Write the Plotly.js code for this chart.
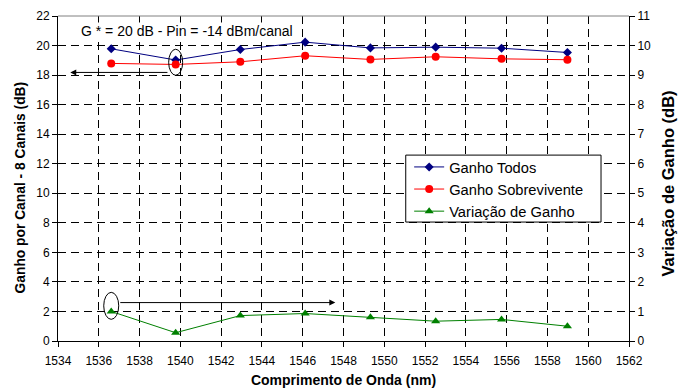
<!DOCTYPE html>
<html>
<head>
<meta charset="utf-8">
<script src="https://cdn.plot.ly/plotly-3.0.1.min.js"></script>
<style>
  html, body { margin: 0; padding: 0; background: #fff; }
  #chart { width: 685px; height: 392px; }
</style>
</head>
<body>
<div id="chart"></div>
<script>
// Channel wavelengths (nm), 8-channel grid
const wavelengths = [1536.61, 1539.77, 1542.94, 1546.12, 1549.32, 1552.52, 1555.75, 1558.98];

// Gain per channel with all channels present (dB)
const ganhoTodos = [19.78, 19.02, 19.73, 20.23, 19.84, 19.89, 19.82, 19.53];

// Gain of the surviving channels (dB)
const ganhoSobrevivente = [18.79, 18.72, 18.90, 19.31, 19.06, 19.24, 19.10, 19.04];

// Gain variation (dB), plotted on the right axis
const variacaoGanho = [1.00, 0.28, 0.86, 0.93, 0.80, 0.67, 0.73, 0.50];

const seriesNames = ['Ganho Todos', 'Ganho Sobrevivente', 'Variação de Ganho'];

const FONT = 'Liberation Sans, Arial, sans-serif';

const traces = [
  {
    x: wavelengths, y: ganhoTodos, name: seriesNames[0],
    type: 'scatter', mode: 'lines+markers',
    line: { color: '#000080', width: 1 },
    marker: { symbol: 'diamond', size: 7, color: '#000080' }
  },
  {
    x: wavelengths, y: ganhoSobrevivente, name: seriesNames[1],
    type: 'scatter', mode: 'lines+markers',
    line: { color: '#FF0000', width: 1 },
    marker: { symbol: 'circle', size: 8, color: '#FF0000' }
  },
  {
    x: wavelengths, y: variacaoGanho, name: seriesNames[2], yaxis: 'y2',
    type: 'scatter', mode: 'lines+markers',
    line: { color: '#008000', width: 1 },
    marker: { symbol: 'triangle-up', size: 8, color: '#008000' }
  }
];

const gridDash = '8px,5px';

const layout = {
  width: 685, height: 392,
  margin: { l: 58, r: 56, t: 16, b: 51 },
  paper_bgcolor: '#fff', plot_bgcolor: '#fff',
  font: { family: FONT, size: 12, color: '#000' },
  showlegend: true,
  legend: {
    x: 0.615, y: 0.585, xanchor: 'left', yanchor: 'top',
    bgcolor: 'rgba(0,0,0,0)', borderwidth: 0,
    font: { family: FONT, size: 14.7, color: '#000' }
  },
  xaxis: {
    range: [1534, 1562], dtick: 2, tick0: 1534,
    showgrid: true, gridcolor: '#000', gridwidth: 1, griddash: gridDash,
    showline: true, linecolor: '#000', linewidth: 1,
    ticks: 'outside', ticklen: 5, tickcolor: '#000', ticklabelstandoff: 4,
    zeroline: false,
    tickfont: { family: FONT, size: 12, color: '#000' },
    title: { text: '<b>Comprimento de Onda (nm)</b>', font: { family: FONT, size: 14, color: '#000' }, standoff: 7 }
  },
  yaxis: {
    range: [0, 22], dtick: 2, tick0: 0,
    showgrid: true, gridcolor: '#000', gridwidth: 1, griddash: gridDash,
    showline: true, linecolor: '#000', linewidth: 1,
    ticks: 'outside', ticklen: 5, tickcolor: '#000',
    zeroline: false,
    tickfont: { family: FONT, size: 12, color: '#000' }
  },
  yaxis2: {
    range: [0, 11], dtick: 1, tick0: 0,
    overlaying: 'y', side: 'right',
    showgrid: false,
    showline: true, linecolor: '#000', linewidth: 1,
    ticks: 'outside', ticklen: 5, tickcolor: '#000',
    zeroline: false,
    tickfont: { family: FONT, size: 12, color: '#000' }
  },
  shapes: [
    // top border of the plotting area
    { type: 'line', xref: 'paper', yref: 'paper', x0: 0, x1: 1, y0: 1, y1: 1,
      line: { color: '#808080', width: 1 } },
    // legend frame (white, covers the grid behind the legend)
    { type: 'rect', xref: 'paper', yref: 'paper', layer: 'above',
      x0: 0.609, x1: 0.951, y0: 0.366, y1: 0.572,
      fillcolor: '#fff', line: { color: '#000', width: 1 } },
    // ellipse around the second channel (gain curves, left axis)
    { type: 'circle', xref: 'x', yref: 'y',
      xsizemode: 'pixel', ysizemode: 'pixel',
      xanchor: wavelengths[1], yanchor: (ganhoTodos[1] + ganhoSobrevivente[1]) / 2,
      x0: -7, x1: 7, y0: -13, y1: 13,
      line: { color: '#000', width: 1 } },
    // ellipse around the first gain-variation point (right axis)
    { type: 'circle', xref: 'x', yref: 'y2',
      xsizemode: 'pixel', ysizemode: 'pixel',
      xanchor: wavelengths[0], yanchor: variacaoGanho[0] + 0.19,
      x0: -7.5, x1: 7.5, y0: -13.5, y1: 13.5,
      line: { color: '#000', width: 1 } }
  ],
  annotations: [
    // axis titles for the two vertical axes
    { text: '<b>Ganho por Canal - 8 Canais (dB)</b>', xref: 'paper', yref: 'paper',
      x: -0.0657, y: 0.474, xanchor: 'center', yanchor: 'middle', textangle: -90,
      showarrow: false, font: { family: FONT, size: 13.8, color: '#000' } },
    { text: '<b>Variação de Ganho (dB)</b>', xref: 'paper', yref: 'paper',
      x: 1.0666, y: 0.4846, xanchor: 'center', yanchor: 'middle', textangle: -90,
      showarrow: false, font: { family: FONT, size: 16.5, color: '#000' } },
    { text: 'G * = 20 dB - Pin = -14 dBm/canal', xref: 'x', yref: 'y',
      x: 1535.1, y: 20.96, xanchor: 'left', yanchor: 'middle', showarrow: false,
      bgcolor: '#fff', borderpad: 0,
      font: { family: FONT, size: 14, color: '#000' } },
    // arrow pointing to the left axis
    { text: '', xref: 'x', yref: 'y', axref: 'x', ayref: 'y',
      x: 1534.6, y: 18.18, ax: wavelengths[1] - 0.33, ay: 18.18,
      showarrow: true, arrowhead: 2, arrowsize: 1.2, arrowwidth: 1, arrowcolor: '#000', standoff: 0 },
    // arrow pointing to the right axis
    { text: '', xref: 'x', yref: 'y2', axref: 'x', ayref: 'y2',
      x: 1547.6, y: 1.3, ax: wavelengths[0] + 0.37, ay: 1.3,
      showarrow: true, arrowhead: 2, arrowsize: 1.2, arrowwidth: 1, arrowcolor: '#000', standoff: 0 }
  ]
};

Plotly.newPlot('chart', traces, layout, { displayModeBar: false, staticPlot: true });
</script>
</body>
</html>
